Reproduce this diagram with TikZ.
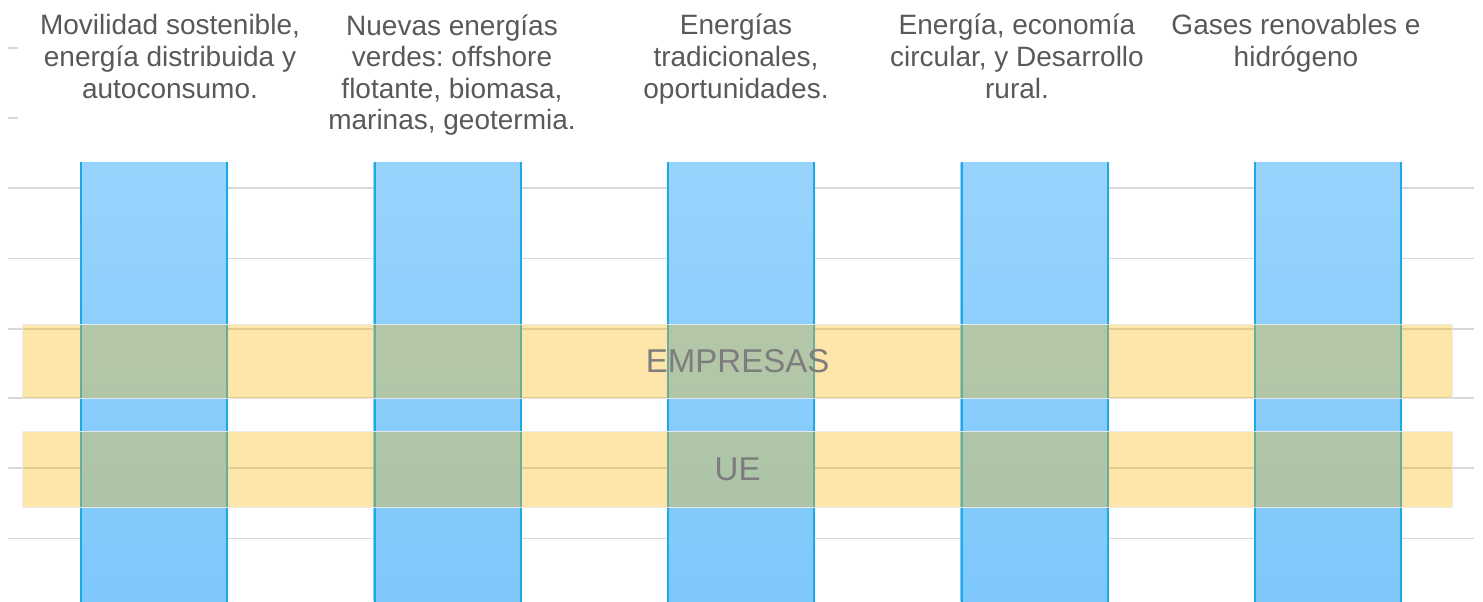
\documentclass[tikz,border=0pt]{standalone}
\usepackage{fontspec}
\setmainfont{Liberation Sans}
\frenchspacing
\definecolor{gridc}{RGB}{215,215,215}
\definecolor{bartop}{RGB}{152,211,252}
\definecolor{barbot}{RGB}{125,200,252}
\definecolor{baredge}{RGB}{28,170,230}
\definecolor{gold}{RGB}{252,184,12}
\definecolor{bandline}{RGB}{236,236,236}
\definecolor{hdr}{RGB}{89,89,89}
\definecolor{lbl}{RGB}{125,125,125}
\begin{document}
\begin{tikzpicture}[x=1pt,y=-1pt,
  gridline/.style={draw=gridc,line width=1.5pt},
  barbox/.style={rectangle,draw=none,inner sep=0pt,minimum width=148pt,minimum height=445pt,
    top color=bartop,bottom color=barbot,anchor=north west},
  baredgeline/.style={draw=baredge,line width=2pt},
  band/.style={rectangle,inner sep=0pt,minimum width=1430pt,anchor=north west,
    fill=gold,fill opacity=0.35,draw=bandline,draw opacity=0.9,line width=1.2pt,
    text opacity=1,text=lbl,font=\fontsize{33}{36}\selectfont},
  hdrtext/.style={anchor=base,align=center,inner sep=0pt,text=hdr,
    font=\fontsize{28}{31.5}\selectfont}]
\useasboundingbox (0,0) rectangle (1483,602);
\begin{scope}
\clip (0,0) rectangle (1483,602);
\foreach \y in {188,258.5,329,398,468,538.5}
  \draw[gridline] (8,\y) -- (1474,\y);
\foreach \y in {48,118}
  \draw[gridline] (8,\y) -- (18,\y);
\foreach \x/\n in {80/1,373.5/2,667/3,960.5/4,1254/5}{
  \node[barbox] (bar\n) at (\x,162) {};
  \draw[baredgeline] ([xshift=1pt]bar\n.north west) -- ([xshift=1pt]bar\n.south west);
  \draw[baredgeline] ([xshift=-1pt]bar\n.north east) -- ([xshift=-1pt]bar\n.south east);
}
\node[band,minimum height=74pt] (empresas) at (22,323.5) {EMPRESAS};
\node[band,minimum height=76pt] (ue) at (22,431) {UE};
\end{scope}
% anchor=base refers to the last line's baseline
\node[hdrtext] (h1) at (170,98) {Movilidad sostenible,\\energía distribuida y\\autoconsumo.};
\node[hdrtext] (h2) at (452,129.5) {Nuevas energías\\verdes: offshore\\flotante, biomasa,\\marinas, geotermia.};
\node[hdrtext] (h3) at (736,98) {Energías\\tradicionales,\\oportunidades.};
\node[hdrtext] (h4) at (1017,98) {Energía, economía\\circular, y Desarrollo\\rural.};
\node[hdrtext] (h5) at (1296,66.5) {Gases renovables e\\hidrógeno};
\end{tikzpicture}
\end{document}
